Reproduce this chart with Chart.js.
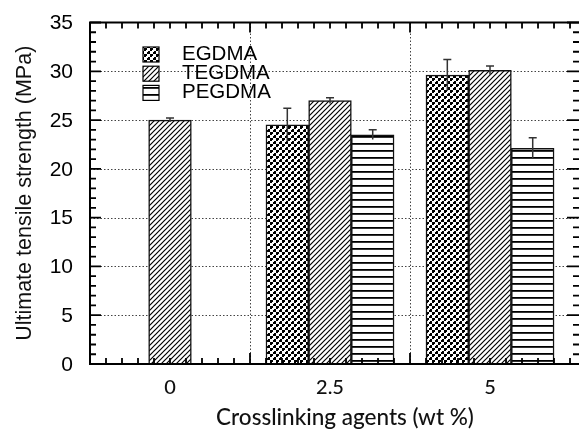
<!DOCTYPE html>
<html>
<head>
<meta charset="utf-8">
<script src="https://cdn.jsdelivr.net/npm/chart.js@4.4.1/dist/chart.umd.min.js"></script>
<style>
  html, body { margin: 0; padding: 0; background: #fff; overflow: hidden; }
  #wrap { width: 584px; height: 430px; }
</style>
</head>
<body>
<div id="wrap"><canvas id="chart" width="584" height="430"></canvas></div>
<script>
// --- Data ---
const loadings = [0, 2.5, 5];              // crosslinker content, wt %
const loadingLabels = ['0', '2.5', '5'];
const seriesNames = ['EGDMA', 'TEGDMA', 'PEGDMA'];
const egdmaUts = [null, 24.5, 29.6];
const tegdmaUts = [25.0, 27.0, 30.1];
const pegdmaUts = [null, 23.5, 22.1];
const egdmaErr = [null, 1.7, 1.6];
const tegdmaErr = [0.2, 0.3, 0.45];
const pegdmaErr = [null, 0.5, 1.1];
const yTickValues = [0, 5, 10, 15, 20, 25, 30, 35];
const xGridValues = [1.25, 3.75];
const xTitle = 'Crosslinking agents (wt %)';
const yTitle = 'Ultimate tensile strength (MPa)';

// --- Fill patterns ---
function makePattern(w, h, draw) {
  const c = document.createElement('canvas');
  c.width = w; c.height = h;
  const g = c.getContext('2d');
  g.fillStyle = '#fff';
  g.fillRect(0, 0, w, h);
  draw(g);
  return g.createPattern(c, 'repeat');
}
const ctx = document.getElementById('chart').getContext('2d');
const dotFill = makePattern(6, 6, g => {
  g.fillStyle = '#000';
  g.fillRect(0, 0, 3, 3);
  g.fillRect(3, 3, 3, 3);
  g.fillStyle = '#fff';
  g.fillRect(2, 2, 2, 2);
});
const hatchFill = makePattern(5, 5, g => {
  g.strokeStyle = '#000';
  g.lineWidth = 1.2;
  g.beginPath();
  g.moveTo(-1, 6); g.lineTo(6, -1);
  g.moveTo(-1, 1); g.lineTo(1, -1);
  g.moveTo(4, 6); g.lineTo(6, 4);
  g.stroke();
});
const stripeFill = makePattern(7, 7, g => {
  g.fillStyle = '#000';
  g.fillRect(0, 3, 7, 1.8);
});
const fills = [dotFill, hatchFill, stripeFill];
const values = [egdmaUts, tegdmaUts, pegdmaUts];
const errors = [egdmaErr, tegdmaErr, pegdmaErr];

// --- Plugins: dotted grid under bars, frame/ticks/labels/error bars on top ---
const gridPlugin = {
  id: 'dottedGrid',
  beforeDatasetsDraw(chart) {
    const { ctx, chartArea: a, scales: { x, y } } = chart;
    ctx.save();
    ctx.strokeStyle = '#444';
    ctx.lineWidth = 1;
    ctx.setLineDash([1.5, 2]);
    yTickValues.forEach(v => {
      if (v === 0 || v === 35) return;
      const py = Math.round(y.getPixelForValue(v)) + 0.5;
      ctx.beginPath(); ctx.moveTo(a.left, py); ctx.lineTo(a.right, py); ctx.stroke();
    });
    xGridValues.forEach(v => {
      const px = Math.round(x.getPixelForValue(v)) + 0.5;
      ctx.beginPath(); ctx.moveTo(px, a.bottom); ctx.lineTo(px, a.top); ctx.stroke();
    });
    ctx.restore();
  }
};

const decorPlugin = {
  id: 'decor',
  afterDatasetsDraw(chart) {
    const { ctx, chartArea: a, scales: { x, y } } = chart;
    ctx.save();

    // error bars (top cap only, as in the original)
    ctx.strokeStyle = '#333';
    ctx.lineWidth = 1.5;
    values.forEach((vals, i) => {
      const meta = chart.getDatasetMeta(i);
      vals.forEach((v, j) => {
        if (v == null) return;
        const bar = meta.data[j];
        const top = y.getPixelForValue(v + errors[i][j]);
        const bot = y.getPixelForValue(v - errors[i][j]);
        ctx.beginPath();
        ctx.moveTo(bar.x, bot); ctx.lineTo(bar.x, top);
        ctx.moveTo(bar.x - 4, top); ctx.lineTo(bar.x + 4, top);
        ctx.stroke();
      });
    });

    // frame
    ctx.strokeStyle = '#000';
    ctx.lineWidth = 2;
    ctx.beginPath();
    ctx.moveTo(a.right, a.top); ctx.lineTo(a.left, a.top);
    ctx.lineTo(a.left, a.bottom); ctx.lineTo(a.right, a.bottom);
    ctx.lineTo(a.right, a.top);
    ctx.stroke();

    // inward ticks
    ctx.lineWidth = 1.8;
    ctx.beginPath();
    for (let v = 0; v <= 35; v++) {
      const py = y.getPixelForValue(v);
      const major = v % 5 === 0;
      ctx.moveTo(a.left, py); ctx.lineTo(a.left + (major ? 11 : 6), py);
      ctx.moveTo(a.right, py); ctx.lineTo(a.right - (major ? 13 : 7), py);
    }
    for (let v = -1.25; v <= x.max; v += 0.25) {
      const px = x.getPixelForValue(v);
      const major = xGridValues.some(g => Math.abs(g - v) < 1e-6);
      ctx.moveTo(px, a.bottom); ctx.lineTo(px, a.bottom - (major ? 11 : 6));
      ctx.moveTo(px, a.top); ctx.lineTo(px, a.top + (major ? 10 : 6));
    }
    ctx.stroke();

    // tick labels
    ctx.fillStyle = '#000';
    ctx.font = '21px "Liberation Sans", Arial, sans-serif';
    ctx.textAlign = 'right';
    ctx.textBaseline = 'middle';
    yTickValues.forEach(v => ctx.fillText(String(v), a.left - 17, y.getPixelForValue(v) + 1));

    ctx.fillStyle = '#111';
    ctx.font = '500 20px Lato, sans-serif';
    ctx.textAlign = 'center';
    ctx.textBaseline = 'alphabetic';
    loadings.forEach((v, i) => ctx.fillText(loadingLabels[i], x.getPixelForValue(v), a.bottom + 30));

    // axis titles
    ctx.font = '500 22.5px Lato, sans-serif';
    ctx.fillText(xTitle, (a.left + a.right) / 2 + 10, a.bottom + 61);

    ctx.save();
    ctx.font = '21.5px "Liberation Sans", Arial, sans-serif';
    ctx.translate(25, (a.top + a.bottom) / 2);
    ctx.rotate(-Math.PI / 2);
    ctx.textBaseline = 'middle';
    ctx.fillText(yTitle, 0, 0);
    ctx.restore();

    // legend
    ctx.font = '20.5px "Liberation Sans", Arial, sans-serif';
    ctx.textAlign = 'left';
    ctx.textBaseline = 'middle';
    seriesNames.forEach((name, i) => {
      const bx = a.left + 53, by = a.top + 24.5 + i * 19.2;
      ctx.fillStyle = fills[i];
      ctx.fillRect(bx, by, 16, 15);
      ctx.strokeStyle = '#000';
      ctx.lineWidth = 1.2;
      ctx.strokeRect(bx, by, 16, 15);
      ctx.fillStyle = '#000';
      ctx.fillText(name, bx + 39, by + 7);
    });

    ctx.restore();
  }
};

new Chart(ctx, {
  type: 'bar',
  data: {
    datasets: seriesNames.map((name, i) => ({
      label: name,
      data: loadings.map((l, j) => ({ x: l, y: values[i][j] })),
      backgroundColor: fills[i],
      borderColor: '#111',
      borderWidth: 1.5,
      barThickness: 42.7
    }))
  },
  options: {
    responsive: false,
    animation: false,
    layout: { padding: { left: 90, top: 22.5, right: 4, bottom: 66 } },
    plugins: { legend: { display: false }, tooltip: { enabled: false } },
    scales: {
      x: { type: 'linear', display: false, offset: false, min: -1.25, max: 6.406 },
      y: { display: false, min: 0, max: 35 }
    }
  },
  plugins: [gridPlugin, decorPlugin]
});
</script>
</body>
</html>
